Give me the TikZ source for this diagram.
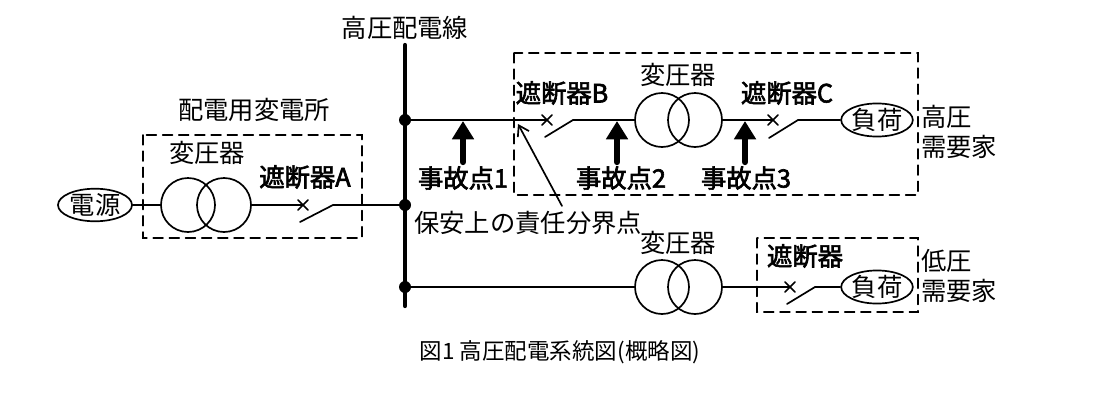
\documentclass[tikz,border=0pt]{standalone}
\usepackage{fontspec}
\newfontfamily\jp[AutoFakeBold=2.5]{Noto Sans CJK JP}
\usetikzlibrary{arrows.meta, shapes.geometric}

\begin{document}
\begin{tikzpicture}[%
        x = 0.025cm,
        y = -0.025cm,
        line width = 1.2pt,
        line cap = round,
        > = Latex,
        every node/.style = {font = \jp\fontsize{18}{21}\selectfont, inner sep = 1pt},
        bold/.style = {font = \jp\bfseries\fontsize{18}{21}\selectfont},
        tr/.style = {draw, circle, minimum size = 1.35cm, inner sep = 0pt},
        load/.style = {draw, ellipse, minimum width = 1.7cm, minimum height = 0.82cm, inner sep = 0pt},
        box/.style = {dash pattern = on 7pt off 4.5pt, line width = 1.1pt},
        fault/.style = {-{Triangle[length = 13pt, width = 15pt]}, line width = 4.5pt}
    ]
        \useasboundingbox (0, 0) rectangle (1115, 415);

        % Positions on the bus.
        \coordinate (bt) at (405, 45);
        \coordinate (bb) at (405, 306);
        \coordinate (d1) at (405, 120);
        \coordinate (d2) at (405, 205);
        \coordinate (d3) at (405, 287);

        % Substation.
        \node[load, minimum width = 1.85cm, minimum height = 0.75cm] (src) at (95, 205) {電源};
        \node[tr] (sa1) at (188, 205) {};
        \node[tr] (sa2) at (224, 205) {};
        \coordinate (xa) at (303, 205);
        \coordinate (ba1) at (300, 222);
        \coordinate (ba2) at (333, 205);
        \draw (src) -- (sa1.west);
        \draw (sa2.east) -- (xa);
        \draw (ba1) -- (ba2) -- (d2);
        \node at (207, 153) {変圧器};
        \node[bold] at (305, 177) {遮断器A};
        \node at (254, 110) {配電用変電所};
        \draw[box] (143, 135) rectangle (362, 238);

        % High voltage customer.
        \node[tr] (sb1) at (662, 120) {};
        \node[tr] (sb2) at (695, 120) {};
        \node[load] (ld1) at (877, 120) {負荷};
        \coordinate (xb) at (547, 120);
        \coordinate (bb1) at (545, 137);
        \coordinate (bb2) at (573, 120);
        \coordinate (xc) at (773, 120);
        \coordinate (bc1) at (769, 138);
        \coordinate (bc2) at (798, 120);
        \draw (d1) -- (xb);
        \draw (bb1) -- (bb2) -- (sb1.west);
        \draw (sb2.east) -- (xc);
        \draw (bc1) -- (bc2) -- (ld1);
        \node at (678, 75) {変圧器};
        \node[bold] at (562, 93) {遮断器B};
        \node[bold] at (787, 93) {遮断器C};
        \draw[box] (514, 53) rectangle (918, 195);
        \node[align = left, anchor = west] at (919, 132) {高圧\\需要家};

        % Fault points.
        \foreach \px/\lx/\n in {463/463/1, 617/621/2, 745/746/3} {
            \draw[fault] (\px, 162) -- (\px, 121);
            \node[bold] at (\lx, 178) {事故点\n};
        }

        % Boundary point.
        \coordinate (pt) at (518, 124);
        \node[anchor = west] (bd) at (412, 223) {保安上の責任分界点};
        \draw[->, > = {Straight Barb[length = 7pt, width = 9pt]}] (562, 206) -- (pt);

        % Low voltage customer.
        \node[tr] (sc1) at (662, 287) {};
        \node[tr] (sc2) at (695, 287) {};
        \node[load] (ld2) at (877, 287) {負荷};
        \coordinate (xd) at (790, 287);
        \coordinate (bd1) at (787, 304);
        \coordinate (bd2) at (815, 287);
        \draw (d3) -- (sc1.west);
        \draw (sc2.east) -- (xd);
        \draw (bd1) -- (bd2) -- (ld2);
        \node at (678, 243) {変圧器};
        \node[bold] at (805, 256) {遮断器};
        \draw[box] (757, 238) rectangle (918, 312);
        \node[align = left, anchor = west] at (919, 276) {低圧\\需要家};

        % Breaker marks.
        \foreach \c in {xa, xb, xc, xd}
            \draw ([shift = {(-5, -5)}]\c) -- ([shift = {(5, 5)}]\c)
                  ([shift = {(-5, 5)}]\c) -- ([shift = {(5, -5)}]\c);

        % The bus.
        \draw[line width = 3pt] (bt) -- (bb);
        \foreach \c in {d1, d2, d3}
            \fill (\c) circle (6);
        \node at (405, 28) {高圧配電線};

        % Caption.
        \node[font = \jp\fontsize{16}{19}\selectfont] at (560, 352) {図1 高圧配電系統図(概略図)};
    \end{tikzpicture}
\end{document}
